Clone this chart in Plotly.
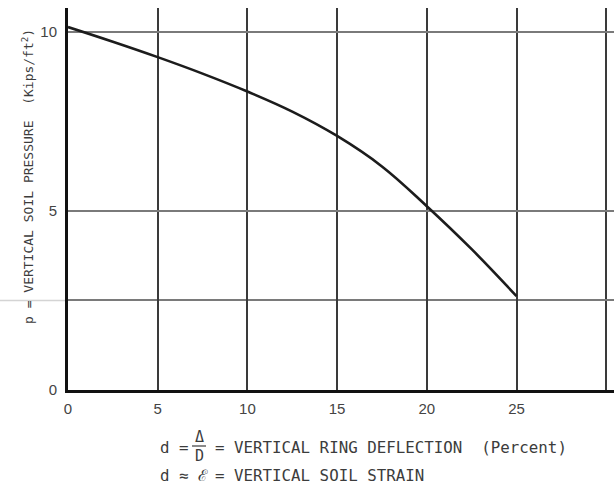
import plotly.graph_objects as go

# Vertical soil pressure vs. vertical ring deflection
deflection_pct = [0, 2.5, 5, 7.5, 10, 12.5, 15, 17.5, 20, 22.5, 25]
soil_pressure = [10.13, 9.72, 9.29, 8.83, 8.33, 7.77, 7.09, 6.24, 5.13, 3.93, 2.62]

x_tickvals = [0, 5, 10, 15, 20, 25]
x_ticktext = ["0", "5", "10", "15", "20", "25"]
x_extra_grid = [30]
y_tickvals = [0, 5, 10]
y_ticktext = ["0", "5", "10"]
y_extra_grid = [2.5]

W, H = 614, 487
ML, MR, MT, MB = 68, 0, 8, 97
PW, PH = W - ML - MR, H - MT - MB
X_MAX = PW / 17.94
Y_MAX = PH / 35.83

MONO = "DejaVu Sans Mono"
INK = "#3c3c3c"
XGRID = dict(color="#3a3a3a", width=1.8)
YGRID = dict(color="#7a7a7a", width=1.6)


def px(xp):
    return (xp - ML) / PW


def py(yp):
    return (H - MB - yp) / PH


fig = go.Figure()
fig.add_trace(go.Scatter(
    x=deflection_pct, y=soil_pressure, mode="lines",
    line=dict(color="#1c1c1c", width=2.6, shape="spline", smoothing=1.1),
    hoverinfo="skip", showlegend=False,
))

# faint continuation of the 2.5 reference line left of the axis
fig.add_shape(type="line", xref="paper", yref="y",
              x0=px(0), x1=0, y0=y_extra_grid[0], y1=y_extra_grid[0],
              line=dict(color="#d4d4d4", width=1.5), layer="below")

# fraction bar of delta over D
fig.add_shape(type="line", xref="paper", yref="paper",
              x0=px(192), x1=px(206), y0=py(446), y1=py(446),
              line=dict(color=INK, width=1.2))

ann = [
    dict(text="p = VERTICAL SOIL PRESSURE  (Kips/ft<sup>2</sup>)", x=px(28), y=py(177),
         textangle=-90, size=13, xanchor="center"),
    dict(text="d =", x=px(158), y=py(447), size=15.8, xanchor="left"),
    dict(text="Δ", x=px(199), y=py(437), size=15, xanchor="center"),
    dict(text="D", x=px(199), y=py(456), size=15, xanchor="center"),
    dict(text="= VERTICAL RING DEFLECTION  (Percent)", x=px(213), y=py(447),
         size=15.8, xanchor="left"),
    dict(text="d ≈ ℰ", x=px(158), y=py(475), size=15.8, xanchor="left"),
    dict(text="= VERTICAL SOIL STRAIN", x=px(213), y=py(475), size=15.8, xanchor="left"),
]
for a in ann:
    fig.add_annotation(
        text=a["text"], x=a["x"], y=a["y"], xref="paper", yref="paper",
        xanchor=a["xanchor"], yanchor="middle", showarrow=False,
        textangle=a.get("textangle", 0),
        font=dict(family=MONO, size=a["size"], color=INK),
    )

fig.update_layout(
    width=W, height=H,
    margin=dict(l=ML, r=MR, t=MT, b=MB, pad=0),
    paper_bgcolor="white", plot_bgcolor="white",
    xaxis=dict(
        range=[0, X_MAX], tickvals=x_tickvals, ticktext=x_ticktext,
        showgrid=True, gridcolor=XGRID["color"], gridwidth=XGRID["width"],
        minor=dict(tickvals=x_extra_grid, showgrid=True, ticks="",
                   gridcolor=XGRID["color"], gridwidth=XGRID["width"]),
        zeroline=False, showline=True, linecolor="#111111", linewidth=3,
        ticks="", ticklabelstandoff=3,
        tickfont=dict(family="Liberation Sans", size=15, color="#444444"),
        fixedrange=True,
    ),
    yaxis=dict(
        range=[0, Y_MAX], tickvals=y_tickvals, ticktext=y_ticktext,
        showgrid=True, gridcolor=YGRID["color"], gridwidth=YGRID["width"],
        minor=dict(tickvals=y_extra_grid, showgrid=True, ticks="",
                   gridcolor=YGRID["color"], gridwidth=YGRID["width"]),
        zeroline=False, showline=True, linecolor="#111111", linewidth=3,
        ticks="", ticklabelstandoff=5,
        tickfont=dict(family="Liberation Sans", size=15, color="#444444"),
        fixedrange=True,
    ),
)

fig.write_html("out.html")
